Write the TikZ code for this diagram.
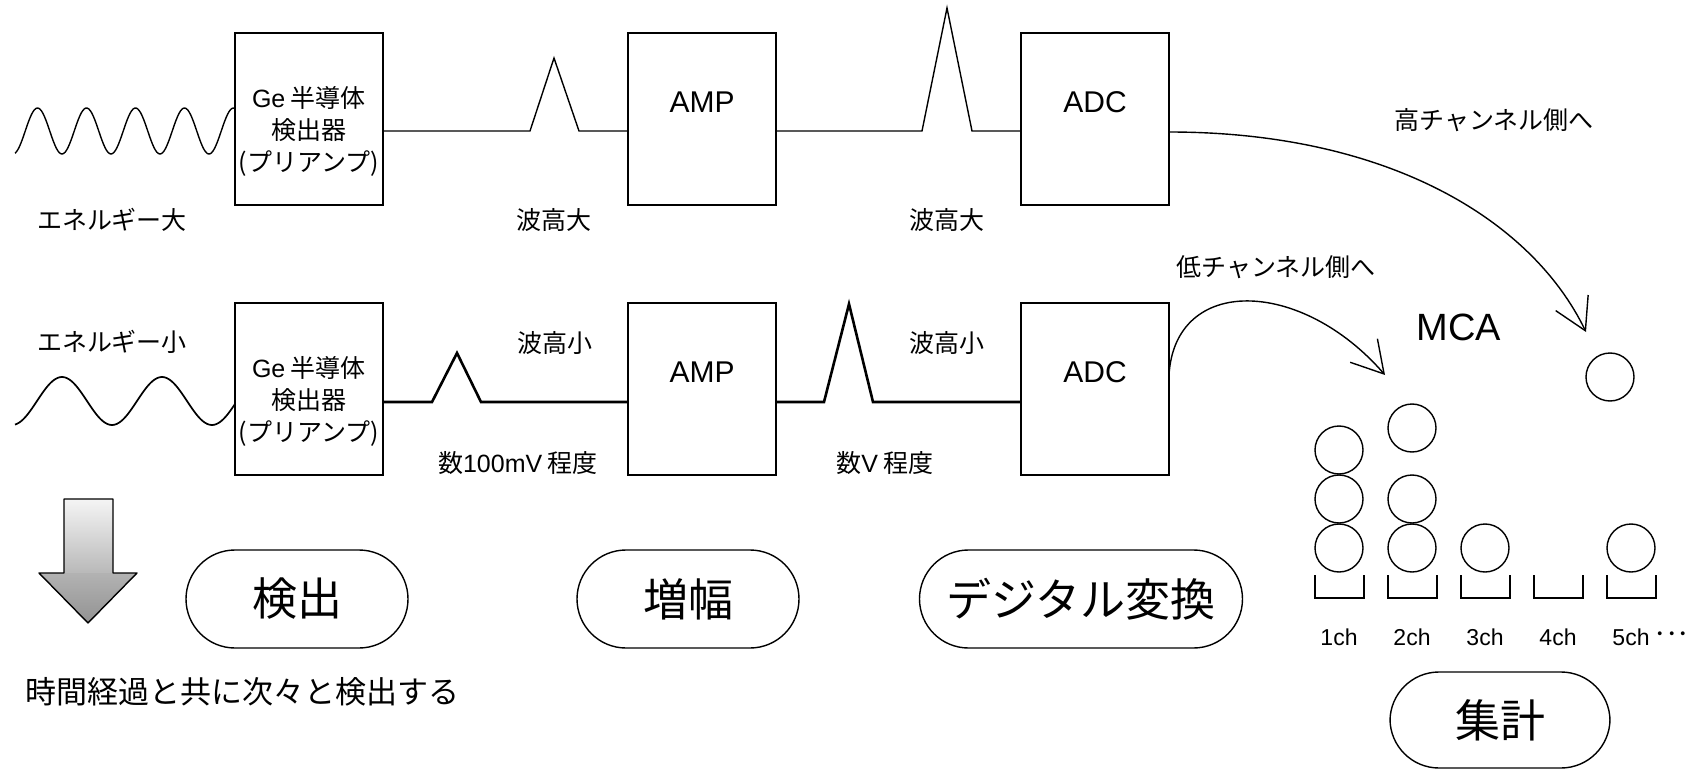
\documentclass[tikz,border=0pt]{standalone}
\usepackage{fontspec}
\setmainfont{Noto Sans CJK JP}
\newfontfamily\lat{Liberation Sans}
\usetikzlibrary{arrows.meta, positioning}

\begin{document}
\begin{tikzpicture}[x=1pt, y=-1pt, line width=1.4pt,
        blk/.style={rectangle, draw, minimum width=148pt, minimum height=172pt, inner sep=0pt, outer sep=0pt},
        lbl/.style={font=\fontsize{25}{32}\selectfont, align=center, inner sep=0pt},
        unit/.style={font=\fontsize{30}{36}\selectfont\lat, inner sep=0pt},
        note/.style={font=\fontsize{31}{36}\selectfont, inner sep=0pt},
        ch/.style={font=\fontsize{23}{26}\selectfont\lat, inner sep=0pt},
        pill/.style={draw, rounded corners=49pt, minimum height=98pt, minimum width=222pt, font=\fontsize{45}{50}\selectfont},
        ball/.style={circle, draw, minimum size=48pt, inner sep=0pt},
        hop/.style={-{Straight Barb[length=31pt, width=36pt]}}]
        \useasboundingbox (0,0) rectangle (1706,770);

        % high energy row
        \node[blk] (ge1) at (309,119) {};
        \node[blk] (amp1) [right = 245pt of ge1] {};
        \node[blk] (adc1) [right = 245pt of amp1] {};
        \node[lbl] at ([yshift=-12pt]ge1.center) {{\lat Ge} 半導体\\検出器\\(プリアンプ)};
        \node[unit] at ([yshift=17pt]amp1.center) {AMP};
        \node[unit] at ([yshift=17pt]adc1.center) {ADC};

        % low energy row
        \node[blk] (ge2) [below = 98pt of ge1] {};
        \node[blk] (amp2) [right = 245pt of ge2] {};
        \node[blk] (adc2) [right = 245pt of amp2] {};
        \node[lbl] at ([yshift=-12pt]ge2.center) {{\lat Ge} 半導体\\検出器\\(プリアンプ)};
        \node[unit] at ([yshift=17pt]amp2.center) {AMP};
        \node[unit] at ([yshift=17pt]adc2.center) {ADC};

        % gamma rays
        \draw plot[domain=15:235, samples=150, smooth] (\x, {131+23*cos((\x-13)/49*360)});
        \draw[line width=1.7pt] plot[domain=15:235, samples=120, smooth] (\x, {401+24*cos((\x-12)*3.6)});

        % pulses
        \draw ([yshift=-12pt]ge1.east) -- (530,131) -- (554,58) -- (579,131) -- ([yshift=-12pt]amp1.west);
        \draw ([yshift=-12pt]amp1.east) -- (922,131) -- (947,8) -- (972,131) -- ([yshift=-12pt]adc1.west);
        \draw[line width=2.6pt] ([yshift=-13pt]ge2.east) -- (432,402) -- (457,353) -- (481,402) -- ([yshift=-13pt]amp2.west);
        \draw[line width=2.6pt] ([yshift=-13pt]amp2.east) -- (824,402) -- (849,304) -- (873,402) -- ([yshift=-13pt]adc2.west);

        \node[lbl] (e1) at (112,220) {エネルギー大};
        \node[lbl] (e2) at (112,342) {エネルギー小};
        \node[lbl] (h1) at (554,220) {波高大};
        \node[lbl] (h2) at (947,220) {波高大};
        \node[lbl] (h3) at (555,343) {波高小};
        \node[lbl] (h4) at (947,343) {波高小};
        \node[lbl] (v1) at (518,463) {数{\lat 100mV} 程度};
        \node[lbl] (v2) at (885,463) {数{\lat V} 程度};

        % MCA
        \coordinate (hi) at (1586,332);
        \coordinate (lo) at (1385,375);
        \draw[hop] ([yshift=-13pt]adc1.east) .. controls (1388,132) and (1532,220) .. (hi);
        \draw[hop] ([yshift=14pt]adc2.east) .. controls (1175,275) and (1301,278) .. (lo);
        \node[lbl] (toh) at (1494,120) {高チャンネル側へ};
        \node[lbl] (tol) at (1276,267) {低チャンネル側へ};
        \node[font=\fontsize{38}{40}\selectfont\lat, inner sep=0pt] (mca) at (1459,327) {MCA};

        \draw (1315,575) -- (1315,598) -- (1364,598) -- (1364,575);
        \draw (1388,575) -- (1388,598) -- (1437,598) -- (1437,575);
        \draw (1461,575) -- (1461,598) -- (1510,598) -- (1510,575);
        \draw (1534,575) -- (1534,598) -- (1583,598) -- (1583,575);
        \draw (1607,575) -- (1607,598) -- (1656,598) -- (1656,575);
        \node[ch] (c1) at (1339,637) {1ch};
        \node[ch] (c2) at (1412,637) {2ch};
        \node[ch] (c3) at (1485,637) {3ch};
        \node[ch] (c4) at (1558,637) {4ch};
        \node[ch] (c5) at (1631,637) {5ch};
        \node[ch, font=\fontsize{23}{26}\selectfont] (etc) [right = 4pt of c5] {･･･};

        \node[ball] (b11) at (1339,548) {};
        \node[ball] (b12) at (1339,499) {};
        \node[ball] (b13) at (1339,450) {};
        \node[ball] (b21) at (1412,548) {};
        \node[ball] (b22) at (1412,499) {};
        \node[ball] (b23) at (1412,428) {};
        \node[ball] (b31) at (1485,548) {};
        \node[ball] (b51) at (1631,548) {};
        \node[ball] (new) at (1610,377) {};

        % time arrow
        \shade[top color=gray!8, bottom color=gray!55] (64,499) rectangle (113,573);
        \shade[top color=gray!60, bottom color=gray!85] (39,573) -- (137,573) -- (88,623) -- cycle;
        \draw[line join=round] (64,499) -- (113,499) -- (113,573) -- (137,573) -- (88,623) -- (39,573) -- (64,573) -- cycle;
        \node[note, anchor=west] (txt) at (25,692) {時間経過と共に次々と検出する};

        % stages
        \node[pill] (det) at (297,599) {検出};
        \node[pill] (amp) at (688,599) {増幅};
        \node[pill, minimum width=323pt] (dig) at (1081,599) {デジタル変換};
        \node[pill, minimum height=96pt, minimum width=220pt] (sum) at (1500,720) {集計};
    \end{tikzpicture}
\end{document}
